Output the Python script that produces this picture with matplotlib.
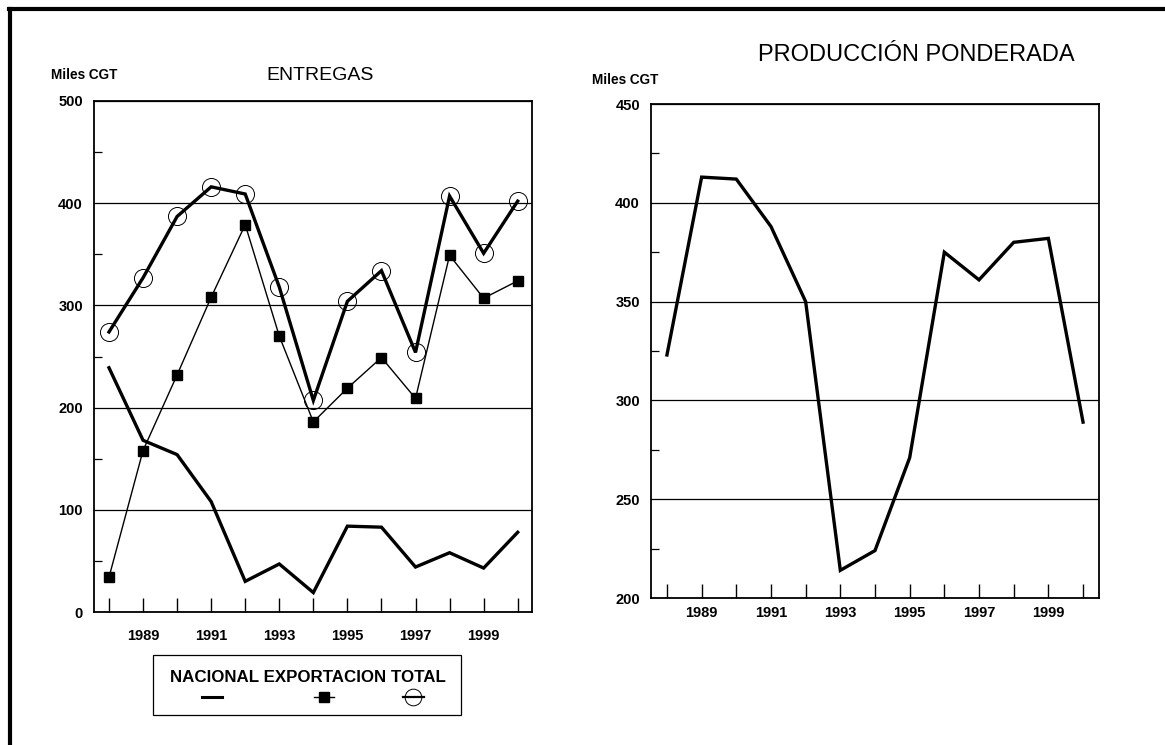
import matplotlib
matplotlib.use("Agg")
import matplotlib.pyplot as plt
from matplotlib.lines import Line2D
from matplotlib.patches import Rectangle
from matplotlib.ticker import MultipleLocator, FixedLocator

plt.rcParams['font.family'] = ['Liberation Sans', 'DejaVu Sans']

years = list(range(1988, 2001))
nacional = [239, 168, 154, 108, 30, 47, 19, 84, 83, 44, 58, 43, 78]
exportacion = [34, 158, 232, 308, 379, 270, 186, 219, 249, 209, 349, 307, 324]
total = [274, 327, 387, 416, 409, 318, 207, 304, 334, 254, 407, 351, 402]
ponderada = [323, 413, 412, 388, 350, 214, 224, 271, 375, 361, 380, 382, 289]
label_years = [1989, 1991, 1993, 1995, 1997, 1999]
legend_names = ["NACIONAL", "EXPORTACION", "TOTAL"]

W, H = 1165, 745
fig = plt.figure(figsize=(W / 100, H / 100), dpi=100)

def fx(px):
    return px / W

def fy(py):
    return 1 - py / H

# outer frame
fig.add_artist(Line2D([fx(10), fx(10)], [fy(8.5), fy(760)], color='black', lw=3.0,
                      transform=fig.transFigure))
fig.add_artist(Line2D([fx(8.5), fx(1200)], [fy(8.5), fy(8.5)], color='black', lw=3.0,
                      transform=fig.transFigure))

def style_axes(ax, ymin, ymax, major, minor, xpad):
    ax.set_ylim(ymin, ymax)
    ax.yaxis.set_major_locator(MultipleLocator(major))
    ax.yaxis.set_minor_locator(MultipleLocator(minor))
    ax.xaxis.set_major_locator(FixedLocator(label_years))
    ax.xaxis.set_minor_locator(FixedLocator(years))
    ax.tick_params(axis='y', which='major', length=0, pad=8, labelsize=10.5)
    ax.tick_params(axis='y', which='minor', length=6, direction='in', width=0.9)
    ax.tick_params(axis='x', which='both', length=10, direction='in', width=1.0,
                   pad=xpad, labelsize=10.5)
    for lab in ax.get_xticklabels() + ax.get_yticklabels():
        lab.set_fontweight('bold')
    for sp in ax.spines.values():
        sp.set_linewidth(1.3)
    ax.grid(axis='y', which='major', color='black', lw=0.9)
    ax.set_axisbelow(True)

# ---- left chart: ENTREGAS
ax1 = fig.add_axes([fx(94), fy(612), fx(532) - fx(94), fy(101) - fy(612)])
ax1.plot(years, nacional, color='black', lw=2.4, solid_joinstyle='miter')
ax1.plot(years, exportacion, color='black', lw=1.0, marker='s', ms=7,
         markerfacecolor='black')
ax1.plot(years, total, color='black', lw=2.4, solid_joinstyle='miter')
ax1.plot(years, total, linestyle='none', marker='o', ms=13, markerfacecolor='none',
         markeredgecolor='black', markeredgewidth=0.7)
ax1.set_xlim(1987.56, 2000.42)
style_axes(ax1, 0, 500, 100, 50, 12)

fig.text(fx(84), fy(75), "Miles CGT", ha='center', va='center', fontsize=9.8,
         fontweight='bold')
fig.text(fx(320), fy(75), "ENTREGAS", ha='center', va='center', fontsize=14)

# ---- right chart: PRODUCCIÓN PONDERADA
ax2 = fig.add_axes([fx(651), fy(598), fx(1099) - fx(651), fy(104) - fy(598)])
ax2.plot(years, ponderada, color='black', lw=2.4, solid_joinstyle='miter')
ax2.set_xlim(1987.54, 2000.46)
style_axes(ax2, 200, 450, 50, 25, 6)
fig.text(fx(625), fy(80), "Miles CGT", ha='center', va='center', fontsize=9.8,
         fontweight='bold')
fig.text(fx(916), fy(55), "PRODUCCIÓN PONDERADA", ha='center', va='center', fontsize=17)

# ---- legend box
fig.add_artist(Rectangle((fx(153), fy(715)), fx(461) - fx(153), fy(655) - fy(715),
                         fill=False, edgecolor='black', lw=0.9, transform=fig.transFigure))
fig.text(fx(308), fy(678), " ".join(legend_names), ha='center', va='center',
         fontsize=12.2, fontweight='bold')
sym_y = fy(697)
fig.add_artist(Line2D([fx(202), fx(222)], [sym_y, sym_y], color='black', lw=2.2,
                      transform=fig.transFigure))
fig.add_artist(Line2D([fx(314), fx(324), fx(334)], [sym_y, sym_y, sym_y], color='black',
                      lw=1.0, marker='s', ms=7, markevery=[1], markerfacecolor='black',
                      markeredgecolor='black', transform=fig.transFigure))
fig.add_artist(Line2D([fx(403), fx(424)], [sym_y, sym_y], color='black', lw=1.6,
                      transform=fig.transFigure))
fig.add_artist(Line2D([fx(413)], [sym_y], linestyle='none', marker='o', ms=12,
                      markerfacecolor='none', markeredgecolor='black',
                      markeredgewidth=0.7, transform=fig.transFigure))

fig.savefig("out.png", dpi=100, facecolor='white')
